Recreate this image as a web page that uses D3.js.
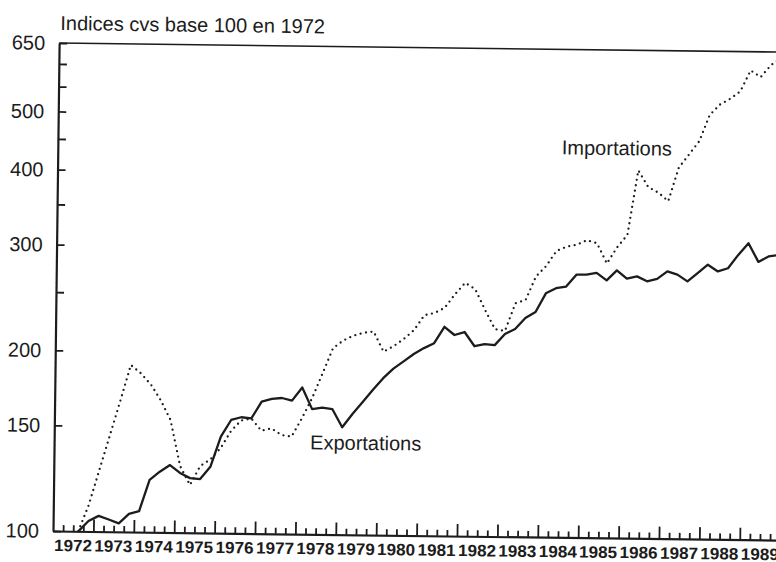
<!DOCTYPE html>
<meta charset="utf-8">
<html>
<head>
<style>
  body { margin: 0; background: #fff; }
  svg { display: block; font-family: "Liberation Sans", Arial, sans-serif; }
</style>
<script src="https://d3js.org/d3.v7.min.js"></script>
</head>
<body>
<div id="chart"></div>
<script>

// quarterly series, 1972 T3 -> 1989 T4 (index cvs, base 100 en 1972)
const startYear = 1972, startQuarter = 3;

const exportations = [
  100, 104.1, 106.2, 104.8, 103.3, 107.2, 108.4, 122.2, 126.2, 129.5,
  125.7, 123.3, 122.9, 128.9, 144.8, 154.4, 156.1, 155.5, 165.9, 167.8,
  168.4, 166.8, 175.5, 161.6, 162.6, 161.8, 151, 158.9, 166.4, 174.6,
  182.6, 189.5, 194.9, 200.6, 205.3, 209.3, 223, 216.2, 218.8, 207.3,
  209.1, 208.4, 217.6, 221.9, 231.6, 237.1, 254.8, 260, 261.7, 274.1,
  274.3, 276.2, 268.6, 279.2, 270.6, 273.1, 268.1, 270.7, 278.8, 275.5,
  268.6, 277.4, 286.6, 279.4, 283, 298, 311.8, 290.4, 296.7, 298.4
];

const importations = [
  100, 110.6, 126.4, 144.5, 165.2, 189.7, 183.9, 176.3, 166, 153.9,
  129.1, 120.1, 129.2, 132.6, 138.6, 148, 154.2, 155.4, 148.4, 149.8,
  146.1, 145.3, 155.9, 168.7, 185.5, 204.4, 210.5, 214.6, 217.1, 218.2,
  202.1, 206.6, 212.5, 219.9, 232.9, 235, 239.8, 252.7, 264.2, 258,
  238.4, 221.5, 220.2, 244.9, 248.1, 271.6, 283, 300, 305, 307.5,
  313, 309.5, 286.5, 305, 320, 410, 385, 377, 365, 415,
  437, 460, 509, 530, 542, 558, 605, 590, 618, 635
];

const years = d3.range(1972, 1990);
const yTicks = [100, 150, 200, 250, 300, 350, 400, 450, 500, 550, 600, 650];
const yLabels = [100, 150, 200, 300, 400, 500, 650];

const W = 776, H = 562;
const plotLeft = 53, plotBottom = 531, plotTop = 43;

// quarter index -> mid-quarter position in years
function quarterTime(i) {
  const q = startQuarter - 1 + i;
  return startYear + q / 4 + 0.125;
}

const svg = d3.select("#chart").append("svg")
  .attr("width", W).attr("height", H);

svg.append("rect").attr("width", W).attr("height", H).attr("fill", "#fff");

// the scanned page is slightly tilted
const g = svg.append("g")
  .attr("transform", "rotate(0.72," + plotLeft + "," + plotBottom + ")");

const x = d3.scaleLinear().domain([1972, 1990]).range([plotLeft, plotLeft + 18 * 40.4]);
const y = d3.scaleLog().domain([100, 650]).range([plotBottom, plotTop]);

const ink = "#1c1c1c";

// title
g.append("text")
  .attr("x", 54).attr("y", 30)
  .attr("font-size", "20px").attr("fill", ink)
  .text("Indices cvs base 100 en 1972");

// top frame line
g.append("line")
  .attr("x1", plotLeft).attr("x2", 800)
  .attr("y1", plotTop).attr("y2", plotTop)
  .attr("stroke", ink).attr("stroke-width", 1.6);

// y axis (log), ticks inside
const yAxis = g.append("g")
  .attr("transform", "translate(" + plotLeft + ",0)")
  .call(d3.axisLeft(y)
    .tickValues(yTicks)
    .tickSizeInner(-8)
    .tickSizeOuter(0)
    .tickPadding(14)
    .tickFormat(d => yLabels.includes(d) ? d : ""));
yAxis.select(".domain").attr("stroke", ink).attr("stroke-width", 2.2);
yAxis.selectAll(".tick line").attr("stroke", ink).attr("stroke-width", 1.8);
yAxis.selectAll(".tick text")
  .attr("font-size", "20px")
  .attr("font-family", "'Liberation Sans', Arial, sans-serif")
  .attr("fill", ink);

// x axis, quarterly ticks pointing up
const qTicks = d3.range(1, 18 * 4 + 1).map(i => 1972 + i / 4);
const xAxis = g.append("g")
  .attr("transform", "translate(0," + plotBottom + ")")
  .call(d3.axisBottom(x)
    .tickValues(qTicks)
    .tickSizeInner(-6)
    .tickSizeOuter(0)
    .tickFormat(""));
xAxis.select(".domain").attr("stroke", ink).attr("stroke-width", 2.2);
xAxis.selectAll(".tick line")
  .attr("stroke", ink).attr("stroke-width", 1.8)
  .attr("y2", d => Number.isInteger(d) ? -12 : -6);

// year labels centred in each year
g.append("g").selectAll("text")
  .data(years)
  .join("text")
    .attr("x", d => x(d + 0.5))
    .attr("y", 551)
    .attr("text-anchor", "middle")
    .attr("font-size", "16.5px")
    .attr("font-weight", "bold")
    .attr("textLength", 38)
    .attr("lengthAdjust", "spacingAndGlyphs")
    .attr("fill", ink)
    .text(d => d);

const line = d3.line()
  .x((d, i) => x(quarterTime(i)))
  .y(d => y(d));

g.append("path")
  .datum(importations)
  .attr("d", line)
  .attr("fill", "none")
  .attr("stroke", ink)
  .attr("stroke-width", 2.3)
  .attr("stroke-linecap", "round")
  .attr("stroke-dasharray", "0,5.5");

g.append("path")
  .datum(exportations)
  .attr("d", line)
  .attr("fill", "none")
  .attr("stroke", ink)
  .attr("stroke-width", 2.3)
  .attr("stroke-linejoin", "round");

// series names
g.append("text")
  .attr("x", 557).attr("y", 148)
  .attr("font-size", "20px").attr("fill", ink)
  .text("Importations");

g.append("text")
  .attr("x", 309).attr("y", 446)
  .attr("font-size", "20px").attr("fill", ink)
  .text("Exportations");

</script>
</body>
</html>
